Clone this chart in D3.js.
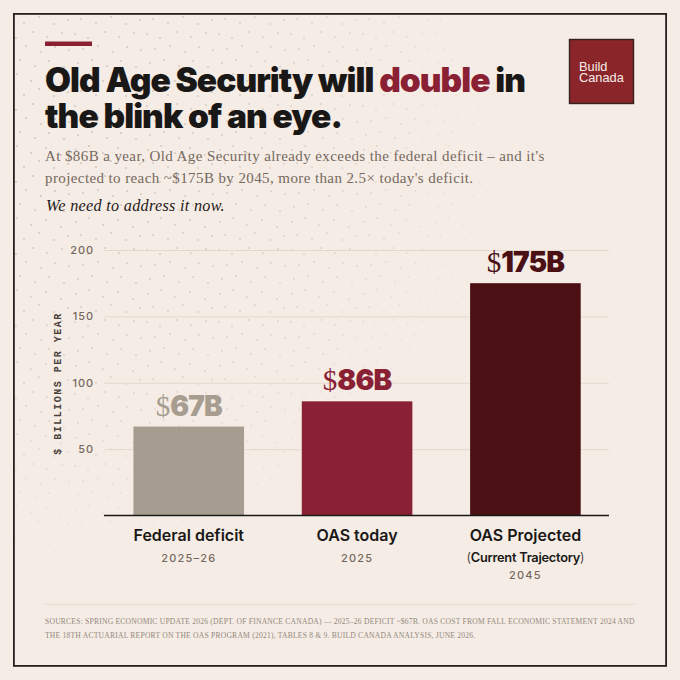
<!DOCTYPE html>
<html>
<head>
<meta charset="utf-8">
<script src="https://cdn.jsdelivr.net/npm/d3@7"></script>
<style>
  html, body { margin: 0; padding: 0; background: #f5ece5; }
  svg { display: block; }
</style>
</head>
<body>
<div id="chart-container"></div>
<script>
// Chart data
const categories = ["Federal deficit", "OAS today", "OAS Projected"];
const values = [67, 86, 175];
const valueLabels = ["67B", "86B", "175B"];
const periods = ["2025–26", "2025", "2045"];
const yTicks = [50, 100, 150, 200];
const barColors = ["#a69d90", "#8a2033", "#4a1014"];
const labelColors = ["#a69d90", "#8a2033", "#4a1014"];

const grotesk = "Inter, 'Liberation Sans', sans-serif";
const serif = "'Liberation Serif', serif";

const svg = d3.select("#chart-container")
  .append("svg")
  .attr("width", 680)
  .attr("height", 680);

const defs = svg.append("defs");

// Dotted paper texture: one irregular tile, fading out to the lower right
const dotTile = [[4, 6], [17, 2], [31, 9], [46, 4], [61, 11], [9, 19], [24, 23], [39, 17], [54, 24], [68, 20],
  [3, 34], [16, 38], [33, 32], [47, 37], [62, 33], [11, 49], [26, 46], [41, 52], [55, 47], [69, 50],
  [6, 63], [20, 60], [35, 66], [49, 61], [64, 67]];
const pattern = defs.append("pattern")
  .attr("id", "dots")
  .attr("width", 72)
  .attr("height", 72)
  .attr("patternUnits", "userSpaceOnUse");
pattern.selectAll("circle")
  .data(dotTile)
  .enter().append("circle")
  .attr("cx", d => d[0])
  .attr("cy", d => d[1])
  .attr("r", 0.7)
  .attr("fill", "#a89686");

const fade = defs.append("radialGradient")
  .attr("id", "fade")
  .attr("gradientUnits", "userSpaceOnUse")
  .attr("cx", 70).attr("cy", 130).attr("r", 520);
fade.append("stop").attr("offset", 0).attr("stop-color", "#fff").attr("stop-opacity", 1);
fade.append("stop").attr("offset", 0.5).attr("stop-color", "#fff").attr("stop-opacity", 0.6);
fade.append("stop").attr("offset", 0.9).attr("stop-color", "#fff").attr("stop-opacity", 0);
defs.append("mask").attr("id", "fadeMask")
  .append("rect").attr("width", 680).attr("height", 680).attr("fill", "url(#fade)");

svg.append("rect").attr("width", 680).attr("height", 680).attr("fill", "#f5ece5");
svg.append("rect")
  .attr("x", 14).attr("y", 14).attr("width", 652).attr("height", 651)
  .attr("fill", "url(#dots)")
  .attr("mask", "url(#fadeMask)");
svg.append("rect")
  .attr("x", 13.9).attr("y", 13.9).attr("width", 652.2).attr("height", 652)
  .attr("fill", "none")
  .attr("stroke", "#26201f")
  .attr("stroke-width", 1.8);

// Header
svg.append("rect")
  .attr("x", 45).attr("y", 41.5).attr("width", 47).attr("height", 4.5)
  .attr("fill", "#8a2033");

const title = svg.append("text")
  .attr("font-family", grotesk)
  .attr("font-weight", 900)
  .attr("font-size", 33.5)
  .attr("letter-spacing", -0.95)
  .attr("fill", "#1a1817");
title.append("tspan").attr("x", 45).attr("y", 92).text("Old Age Security will ");
title.append("tspan").attr("fill", "#8a2033").text("double");
title.append("tspan").text(" in");
title.append("tspan").attr("x", 45).attr("y", 128).text("the blink of an eye.");

svg.selectAll(".sub")
  .data([
    "At $86B a year, Old Age Security already exceeds the federal deficit – and it's",
    "projected to reach ~$175B by 2045, more than 2.5× today's deficit."
  ])
  .enter().append("text")
  .attr("class", "sub")
  .attr("x", 45)
  .attr("y", (d, i) => 161 + i * 21.5)
  .attr("font-family", serif)
  .attr("font-size", 15)
  .attr("letter-spacing", 0.4)
  .attr("fill", "#75695f")
  .text(d => d);

svg.append("text")
  .attr("x", 46).attr("y", 211)
  .attr("font-family", serif)
  .attr("font-style", "italic")
  .attr("font-size", 16.2)
  .attr("letter-spacing", 0.3)
  .attr("fill", "#1f1a19")
  .text("We need to address it now.");

// Logo
svg.append("rect")
  .attr("x", 569.5).attr("y", 39.5).attr("width", 64).attr("height", 64)
  .attr("fill", "#8a2629")
  .attr("stroke", "#33201f")
  .attr("stroke-width", 1.4);
const logo = svg.append("text")
  .attr("font-family", "'Liberation Sans', sans-serif")
  .attr("font-size", 12.8)
  .attr("fill", "#f7ecea");
logo.append("tspan").attr("x", 579).attr("y", 71).text("Build");
logo.append("tspan").attr("x", 579).attr("y", 82).text("Canada");

// Scales
const x = d3.scaleBand()
  .domain(categories)
  .range([104, 609])
  .paddingInner(0.343)
  .paddingOuter(0.1715)
  .align(0.51);

const y = d3.scaleLinear()
  .domain([0, 200])
  .range([515.5, 250]);

// Grid lines and y ticks
const yAxis = svg.append("g")
  .attr("transform", "translate(104,0)")
  .call(d3.axisLeft(y).tickValues(yTicks).tickSize(-505).tickPadding(10));
yAxis.select(".domain").remove();
yAxis.selectAll(".tick line")
  .attr("stroke", "#e2d9ce")
  .attr("stroke-width", 1);
yAxis.selectAll(".tick text")
  .attr("font-family", grotesk)
  .attr("font-size", 11)
  .attr("font-weight", 500)
  .attr("letter-spacing", 0.9)
  .attr("fill", "#75695f");

svg.append("text")
  .attr("transform", "translate(61,383.5) rotate(-90)")
  .attr("text-anchor", "middle")
  .attr("font-family", "'Liberation Mono', monospace")
  .attr("font-weight", 700)
  .attr("font-size", 10)
  .attr("letter-spacing", 1.5)
  .attr("fill", "#4a403a")
  .text("$ BILLIONS PER YEAR");

// Bars
svg.selectAll(".bar")
  .data(categories)
  .enter().append("rect")
  .attr("class", "bar")
  .attr("x", d => x(d))
  .attr("width", x.bandwidth())
  .attr("y", (d, i) => y(values[i]))
  .attr("height", (d, i) => y(0) - y(values[i]))
  .attr("fill", (d, i) => barColors[i]);

// Baseline
svg.append("line")
  .attr("x1", 104).attr("x2", 609)
  .attr("y1", y(0)).attr("y2", y(0))
  .attr("stroke", "#1a1817")
  .attr("stroke-width", 1.3);

// Value labels: serif dollar sign + heavy number
const valueText = svg.selectAll(".value")
  .data(categories)
  .enter().append("text")
  .attr("class", "value")
  .attr("x", d => x(d) + x.bandwidth() / 2)
  .attr("y", (d, i) => y(values[i]) - 11)
  .attr("text-anchor", "middle")
  .attr("fill", (d, i) => labelColors[i]);
valueText.append("tspan")
  .attr("font-family", serif)
  .attr("font-size", 29)
  .text("$");
valueText.append("tspan")
  .attr("font-family", grotesk)
  .attr("font-weight", 900)
  .attr("font-size", 28)
  .attr("letter-spacing", -0.9)
  .text((d, i) => valueLabels[i]);

// Category labels
svg.selectAll(".cat")
  .data(categories)
  .enter().append("text")
  .attr("class", "cat")
  .attr("x", d => x(d) + x.bandwidth() / 2)
  .attr("y", 541)
  .attr("text-anchor", "middle")
  .attr("font-family", grotesk)
  .attr("font-weight", 600)
  .attr("font-size", 16)
  .attr("fill", "#1a1817")
  .text(d => d);

svg.selectAll(".period")
  .data(categories)
  .enter().append("text")
  .attr("class", "period")
  .attr("x", d => x(d) + x.bandwidth() / 2)
  .attr("y", (d, i) => i === 2 ? 579 : 562)
  .attr("text-anchor", "middle")
  .attr("font-family", grotesk)
  .attr("font-weight", 500)
  .attr("font-size", 11)
  .attr("letter-spacing", 1.2)
  .attr("fill", "#75695f")
  .text((d, i) => periods[i]);

const traj = svg.append("text")
  .attr("x", x(categories[2]) + x.bandwidth() / 2)
  .attr("y", 562)
  .attr("text-anchor", "middle")
  .attr("font-family", grotesk)
  .attr("font-size", 12.8)
  .attr("font-weight", 600)
  .attr("letter-spacing", -0.25)
  .attr("fill", "#1a1817");
traj.append("tspan").attr("font-weight", 300).text("(");
traj.append("tspan").text("Current Trajectory");
traj.append("tspan").attr("font-weight", 300).text(")");

// Footer
svg.append("line")
  .attr("x1", 45).attr("x2", 635)
  .attr("y1", 604.5).attr("y2", 604.5)
  .attr("stroke", "#e6dcd2");

svg.selectAll(".source")
  .data([
    "SOURCES: SPRING ECONOMIC UPDATE 2026 (DEPT. OF FINANCE CANADA) — 2025–26 DEFICIT ~$67B. OAS COST FROM FALL ECONOMIC STATEMENT 2024 AND",
    "THE 18TH ACTUARIAL REPORT ON THE OAS PROGRAM (2021), TABLES 8 & 9. BUILD CANADA ANALYSIS, JUNE 2026."
  ])
  .enter().append("text")
  .attr("class", "source")
  .attr("x", 45)
  .attr("y", (d, i) => 624 + i * 13.5)
  .attr("font-family", serif)
  .attr("font-size", 7.6)
  .attr("letter-spacing", 0.21)
  .attr("fill", "#94897e")
  .text(d => d);
</script>
</body>
</html>
